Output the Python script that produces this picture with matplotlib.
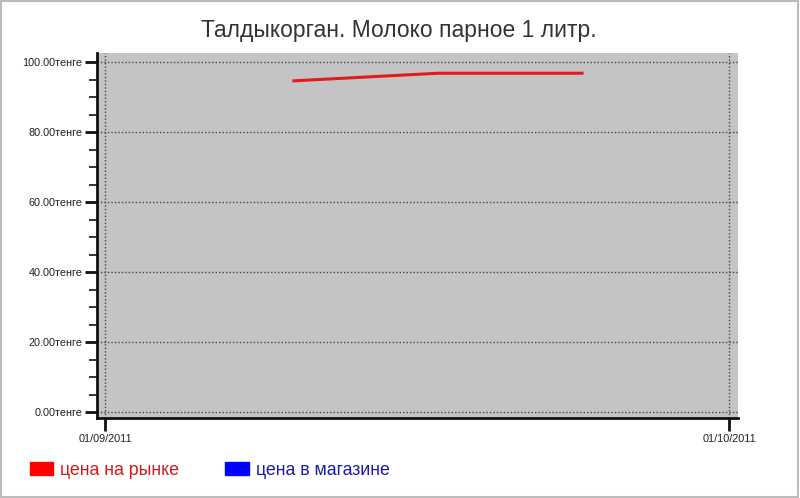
import datetime as dt
import matplotlib
matplotlib.use('Agg')
import matplotlib.pyplot as plt
import matplotlib.dates as mdates
from matplotlib.patches import Patch, Rectangle
from matplotlib.ticker import MultipleLocator, FuncFormatter

# data
title = 'Талдыкорган. Молоко парное 1 литр.'
market_dates = [dt.date(2011, 9, 10), dt.date(2011, 9, 17), dt.date(2011, 9, 24)]
market_prices = [94.7, 96.9, 96.9]
x_ticks = [dt.date(2011, 9, 1), dt.date(2011, 10, 1)]
series_labels = ['цена на рынке', 'цена в магазине']
series_colors = ['#ff0000', '#0000ff']
label_colors = ['#d01818', '#1818b0']

plt.rcParams['font.family'] = ['Liberation Sans', 'DejaVu Sans']

fig = plt.figure(figsize=(8, 4.98), dpi=100)
ax = fig.add_axes([0.1209, 0.160, 0.801, 0.733])
ax.set_facecolor('#c4c3c5')

ax.plot(market_dates, market_prices, color='#e01c1c', lw=2.2, solid_capstyle='butt')

ax.set_ylim(-1.7, 102.6)
ax.set_xlim(mdates.date2num(x_ticks[0]) - 0.4, mdates.date2num(x_ticks[1]) + 0.4)

ax.yaxis.set_major_locator(MultipleLocator(20))
ax.yaxis.set_minor_locator(MultipleLocator(5))
ax.yaxis.set_major_formatter(FuncFormatter(lambda v, p: '%.2fтенге' % v))
ax.set_xticks(mdates.date2num(x_ticks))
ax.xaxis.set_major_formatter(mdates.DateFormatter('%d/%m/%Y'))

ax.grid(True, which='major', color='#444444', ls=(0, (1, 1.5)), lw=1.0)

for s in ['top', 'right']:
    ax.spines[s].set_visible(False)
for s in ['left', 'bottom']:
    ax.spines[s].set_linewidth(2)
    ax.spines[s].set_color('#111111')

ax.tick_params(axis='y', which='major', length=9, width=2, labelsize=7.8, pad=1.5, colors='#111111')
ax.tick_params(axis='y', which='minor', length=6, width=1.2, colors='#111111')
ax.tick_params(axis='x', which='major', length=9, width=2, labelsize=7.8, pad=2, colors='#111111')
for lab in ax.get_yticklabels() + ax.get_xticklabels():
    lab.set_color('#222222')

fig.suptitle(title, x=0.498, y=0.962, fontsize=16.5, color='#333333', va='top')

handles = [Patch(facecolor=c, edgecolor=c) for c in series_colors]
leg = fig.legend(handles, series_labels, loc='lower left', bbox_to_anchor=(0.022, 0.014),
                 ncol=2, frameon=False, fontsize=12.8, handlelength=1.3, handleheight=0.8,
                 handletextpad=0.4, columnspacing=2.6, borderaxespad=0.3)
for t, c in zip(leg.get_texts(), label_colors):
    t.set_color(c)

# thin frame around the whole picture
fig.patches.append(Rectangle((0.001, 0.002), 0.997, 0.996, transform=fig.transFigure,
                             fill=False, edgecolor='#bbbbbb', lw=1.5))

fig.savefig('out.png', dpi=100)
